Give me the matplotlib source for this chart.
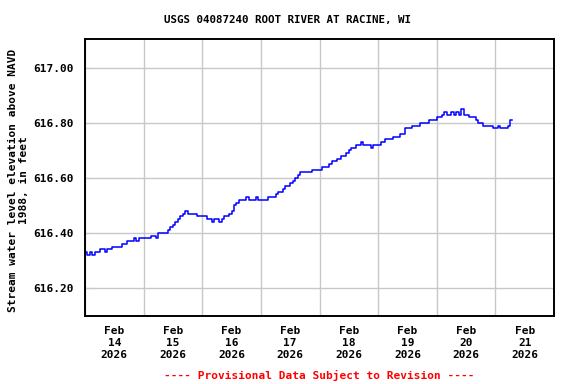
import matplotlib
matplotlib.use("Agg")
import matplotlib.pyplot as plt
import matplotlib.dates as mdates
import numpy as np
import pandas as pd

title = "USGS 04087240 ROOT RIVER AT RACINE, WI"
ylabel = "Stream water level elevation above NAVD\n1988, in feet"
footer = "---- Provisional Data Subject to Revision ----"
start = "2026-02-14 00:00"

# hourly gage height readings (ft)
level = [
    616.33, 616.32, 616.33, 616.32, 616.33, 616.33, 616.34, 616.34, 616.33, 616.34, 616.34, 616.35,
    616.35, 616.35, 616.35, 616.36, 616.36, 616.37, 616.37, 616.37, 616.38, 616.37, 616.38, 616.38,
    616.38, 616.38, 616.38, 616.39, 616.39, 616.38, 616.40, 616.40, 616.40, 616.40, 616.41, 616.42,
    616.43, 616.44, 616.45, 616.46, 616.47, 616.48, 616.47, 616.47, 616.47, 616.47, 616.46, 616.46,
    616.46, 616.46, 616.45, 616.45, 616.44, 616.45, 616.45, 616.44, 616.45, 616.46, 616.46, 616.47,
    616.48, 616.50, 616.51, 616.52, 616.52, 616.52, 616.53, 616.52, 616.52, 616.52, 616.53, 616.52,
    616.52, 616.52, 616.52, 616.53, 616.53, 616.53, 616.54, 616.55, 616.55, 616.56, 616.57, 616.57,
    616.58, 616.59, 616.60, 616.61, 616.62, 616.62, 616.62, 616.62, 616.62, 616.63, 616.63, 616.63,
    616.63, 616.64, 616.64, 616.64, 616.65, 616.66, 616.66, 616.67, 616.67, 616.68, 616.68, 616.69,
    616.70, 616.71, 616.71, 616.72, 616.72, 616.73, 616.72, 616.72, 616.72, 616.71, 616.72, 616.72,
    616.72, 616.73, 616.73, 616.74, 616.74, 616.74, 616.75, 616.75, 616.75, 616.76, 616.76, 616.78,
    616.78, 616.78, 616.79, 616.79, 616.79, 616.80, 616.80, 616.80, 616.80, 616.81, 616.81, 616.81,
    616.82, 616.82, 616.83, 616.84, 616.83, 616.83, 616.84, 616.83, 616.84, 616.83, 616.85, 616.83,
    616.83, 616.82, 616.82, 616.82, 616.81, 616.80, 616.80, 616.79, 616.79, 616.79, 616.79, 616.78,
    616.78, 616.79, 616.78, 616.78, 616.78, 616.79, 616.81, 616.81,
]

day_labels = ["Feb\n14\n2026", "Feb\n15\n2026", "Feb\n16\n2026", "Feb\n17\n2026",
              "Feb\n18\n2026", "Feb\n19\n2026", "Feb\n20\n2026", "Feb\n21\n2026"]
yticks = [616.20, 616.40, 616.60, 616.80, 617.00]

times = pd.date_range(start, periods=len(level), freq="h")

mono = "DejaVu Sans Mono"
plt.rcParams["font.family"] = mono
plt.rcParams["font.weight"] = "bold"

fig = plt.figure(figsize=(5.76, 3.84), dpi=100)
ax = fig.add_axes([85/576, 1-316/384, (554-85)/576, (316-39)/384])

ax.plot(times, level, color="#0000ff", lw=1.1, drawstyle="steps-post")

day0 = pd.Timestamp(start)
ax.set_xlim(day0, day0 + pd.Timedelta(days=8))
ax.set_ylim(616.098, 617.105)

midnights = [day0 + pd.Timedelta(days=i) for i in range(9)]
noons = [day0 + pd.Timedelta(days=i, hours=12) for i in range(len(day_labels))]
ax.set_xticks(midnights)
ax.set_xticklabels([])
ax.set_xticks(noons, minor=True)
ax.set_xticklabels(day_labels, minor=True, fontsize=8, fontweight="bold", linespacing=1.25)
ax.tick_params(axis="x", which="minor", length=0, pad=7)
ax.tick_params(axis="x", which="major", direction="in", length=4, color="#c8c8c8")

ax.set_yticks(yticks)
ax.set_yticklabels([f"{v:.2f}" for v in yticks], fontsize=8, fontweight="bold")
ax.tick_params(axis="y", direction="in", length=5, pad=8, color="#c8c8c8")

ax.grid(True, which="major", color="#c8c8c8", lw=1)
ax.set_axisbelow(True)
for s in ax.spines.values():
    s.set_linewidth(1.4)
    s.set_color("black")

fig.text(288/576, 1-20/384, title, ha="center", va="center", fontsize=7.8, fontweight="bold")
fig.text(18.5/576, 1-180/384, ylabel, ha="center", va="center", rotation=90,
         multialignment="center", fontsize=8, fontweight="bold", linespacing=1.05)
fig.text(319/576, 1-375/384, footer, ha="center", va="center", color="#ff0000",
         fontsize=8, fontweight="bold")

fig.savefig("out.png", dpi=100)
